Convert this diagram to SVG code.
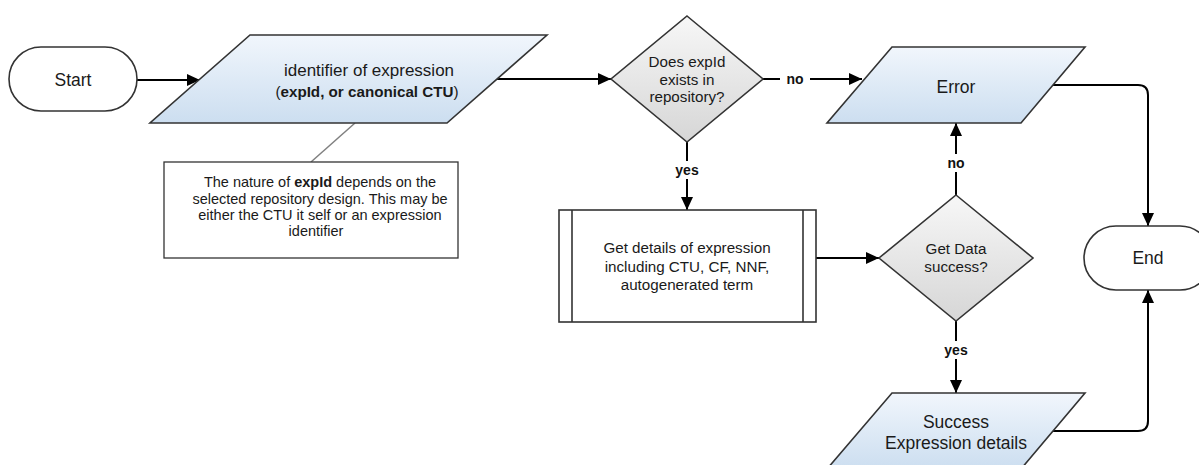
<svg xmlns="http://www.w3.org/2000/svg" width="1199" height="465" viewBox="0 0 1199 465">
<style>
text{font-family:"Liberation Sans",Arial,Helvetica,sans-serif;fill:#1a1a1a;text-anchor:middle}
.big{font-size:17.5px}
.mid{font-size:15.2px}
.note{font-size:14.5px}
.b{font-weight:bold}
.shape{stroke:#333;stroke-width:1.6}
.term{fill:#fff}
.io{fill:url(#gBlue)}
.dec{fill:url(#gGray)}
.proc{fill:#fff}
.conn{fill:none;stroke:#000;stroke-width:2}
.lbl{font-size:14px;font-weight:bold;fill:#111}
.lblbg{fill:#fff}
</style>
<defs>
<linearGradient id="gBlue" x1="0" y1="0" x2="0" y2="1">
<stop offset="0" stop-color="#f1f6fc"/>
<stop offset="1" stop-color="#ccdef0"/>
</linearGradient>
<linearGradient id="gGray" x1="0" y1="0" x2="0" y2="1">
<stop offset="0" stop-color="#f7f7f7"/>
<stop offset="1" stop-color="#d6d6d6"/>
</linearGradient>
<marker id="arr" markerUnits="userSpaceOnUse" markerWidth="14" markerHeight="12" refX="13" refY="6" orient="auto">
<path d="M0,0 L13,6 L0,12 z" fill="#000"/>
</marker>
</defs>

<g id="connectors">
<path class="conn" d="M137,80 L200,80" marker-end="url(#arr)"/>
<path class="conn" d="M497,79 L611,79" marker-end="url(#arr)"/>
<path class="conn" d="M763,79 L862,79" marker-end="url(#arr)"/>
<path class="conn" d="M687,142 L687,210" marker-end="url(#arr)"/>
<path class="conn" d="M816,258 L879,258" marker-end="url(#arr)"/>
<path class="conn" d="M956,195 L956,123" marker-end="url(#arr)"/>
<path class="conn" d="M956,321 L956,393" marker-end="url(#arr)"/>
<path class="conn" d="M1053,85 L1138,85 Q1148,85 1148,95 L1148,226" marker-end="url(#arr)"/>
<path class="conn" d="M1053,431 L1138,431 Q1148,431 1148,421 L1148,290" marker-end="url(#arr)"/>
<path d="M311,162 L355,123" fill="none" stroke="#808080" stroke-width="1.5"/>
<rect class="lblbg" x="780" y="70" width="30" height="18"/>
<text class="lbl" x="795" y="84">no</text>
<rect class="lblbg" x="672" y="161" width="30" height="18"/>
<text class="lbl" x="687" y="175">yes</text>
<rect class="lblbg" x="941" y="154" width="30" height="18"/>
<text class="lbl" x="956" y="168">no</text>
<rect class="lblbg" x="941" y="341" width="30" height="18"/>
<text class="lbl" x="956" y="355">yes</text>
</g>

<g id="start">
<rect class="shape term" x="9" y="47" width="128" height="64" rx="32" ry="32"/>
<text class="big" x="73" y="86">Start</text>
</g>

<g id="input">
<polygon class="shape io" points="250,35 547,35 447,123 150,123"/>
<text x="369" y="76" style="font-size:17px">identifier of expression</text>
<text x="367" y="97" style="font-size:15.2px">(<tspan class="b">expId, or canonical CTU</tspan>)</text>
</g>

<g id="note">
<rect x="164" y="162" width="294" height="96" fill="#fff" stroke="#333" stroke-width="1.3"/>
<text class="note" x="320" y="187">The nature of <tspan class="b">expId</tspan> depends on the</text>
<text class="note" x="320" y="204">selected repository design. This may be</text>
<text class="note" x="320" y="220">either the CTU it self or an expression</text>
<text class="note" x="316" y="236">identifier</text>
</g>

<g id="decision1">
<polygon class="shape dec" points="687,16 763,79 687,142 611,79"/>
<text class="mid" x="687" y="67">Does expId</text>
<text class="mid" x="687" y="85">exists in</text>
<text class="mid" x="687" y="102">repository?</text>
</g>

<g id="error">
<polygon class="shape io" points="892,47 1085,47 1021,123 827,123"/>
<text class="big" x="956" y="93">Error</text>
</g>

<g id="process">
<rect class="shape proc" x="559" y="210" width="257" height="112"/>
<line class="shape" x1="572" y1="210" x2="572" y2="322"/>
<line class="shape" x1="803" y1="210" x2="803" y2="322"/>
<text class="mid" x="687" y="253">Get details of expression</text>
<text class="mid" x="687" y="272">including CTU, CF, NNF,</text>
<text class="mid" x="687" y="290">autogenerated term</text>
</g>

<g id="decision2">
<polygon class="shape dec" points="956,195 1033,258 956,321 879,258"/>
<text class="mid" x="956" y="254">Get Data</text>
<text class="mid" x="956" y="272">success?</text>
</g>

<g id="end">
<rect class="shape term" x="1084" y="226" width="128" height="64" rx="32" ry="32"/>
<text class="big" x="1148" y="264">End</text>
</g>

<g id="success">
<polygon class="shape io" points="892,393 1085,393 1021,469 827,469"/>
<text class="big" x="956" y="428">Success</text>
<text class="big" x="956" y="449">Expression details</text>
</g>
</svg>
